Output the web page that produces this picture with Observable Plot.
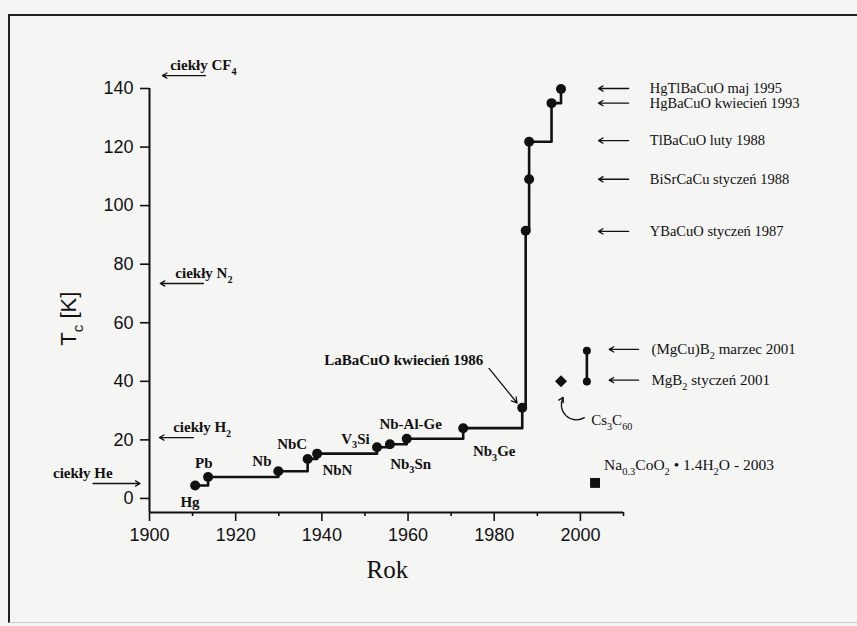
<!DOCTYPE html>
<html><head><meta charset="utf-8">
<script src="https://cdn.jsdelivr.net/npm/d3@7"></script>
<script src="https://cdn.jsdelivr.net/npm/@observablehq/plot@0.6"></script>
<style>
html,body{margin:0;padding:0;background:#f5f5f4;}
#wrap{position:relative;width:857px;height:626px;overflow:hidden;}
#wrap svg{position:absolute;left:0;top:0;}
#border{position:absolute;left:8px;top:14px;width:849px;height:609px;border-left:2px solid #222;border-top:2px solid #222;border-bottom:1px solid #c8c8c8;box-sizing:border-box;pointer-events:none}
</style></head><body><div id="wrap"><div id="border"></div></div>
<script>
// main record series (step line)
const materials = ["Hg","Pb","Nb","NbC","NbN","V3Si","Nb3Sn","Nb-Al-Ge","Nb3Ge","LaBaCuO","YBaCuO","BiSrCaCu","TlBaCuO","HgBaCuO","HgTlBaCuO"];
const years = [1910.6, 1913.6, 1929.9, 1936.7, 1938.9, 1952.8, 1955.8, 1959.7, 1972.8, 1986.5, 1987.3, 1988.1, 1988.1, 1993.3, 1995.5];
const tc = [4.4, 7.3, 9.3, 13.5, 15.3, 17.5, 18.5, 20.4, 24.0, 31.0, 91.4, 109, 121.8, 135, 139.8];

// labels next to the low-Tc points
const pointLabelText = ["Hg","Pb","Nb","NbC","NbN","V_{3}Si","Nb_{3}Sn","Nb-Al-Ge","Nb_{3}Ge"];
const pointLabelX = [1909.4, 1912.6, 1926.1, 1933.1, 1943.6, 1947.8, 1960.6, 1960.6, 1980.0];
const pointLabelY = [-1.4, 12.0, 12.7, 18.4, 9.6, 20.4, 11.8, 25.3, 16.1];

// record annotations on the right
const recordText = ["HgTlBaCuO maj 1995","HgBaCuO kwiecień 1993","TlBaCuO luty 1988","BiSrCaCu styczeń 1988","YBaCuO styczeń 1987"];
const recordTc = [140.0, 135.0, 122.2, 109, 91.2];

// MgB2 family (2001)
const mgText = ["(MgCu)B_{2} marzec 2001","MgB_{2} styczeń 2001"];
const mgYear = [2001.5, 2001.5];
const mgTc = [50.4, 39.9];

// other materials
const cs3c60 = {name: "Cs_{3}C_{60}", year: 1995.5, tc: 40.0};
const naco = {name: "Na_{0.3}CoO_{2} • 1.4H_{2}O - 2003", year: 2003.4, tc: 5.3};

// liquid coolant boiling temperatures
const liquidText = ["ciekły CF_{4}","ciekły N_{2}","ciekły H_{2}","ciekły He"];
const liquidT = [144.4, 73.4, 20.8, 5.1];
const liquidTextX = [1904.8, 1906.0, 1905.5, 1877.6];
const liquidArrowFrom = [1913.0, 1912.5, 1910.2, 1886.9];
const liquidArrowTo = [1903.0, 1902.5, 1902.3, 1897.8];

const xMajor = [1900,1920,1940,1960,1980,2000];
const xMinor = [1910,1930,1950,1970,1990,2010];
const yTicks = [0,20,40,60,80,100,120,140];

const serif = "'Liberation Serif','Times New Roman',serif";
const sans = "'Liberation Sans',Arial,sans-serif";
const ink = "#111";
const idx = d3.range(materials.length);
const rIdx = d3.range(recordText.length);
const lIdx = d3.range(liquidText.length);
const pIdx = d3.range(pointLabelText.length);
const mIdx = d3.range(mgText.length);

const chart = Plot.plot({
  width: 857, height: 626,
  marginLeft: 149, marginRight: 234, marginTop: 88, marginBottom: 114,
  x: {domain: [1900, 2010], label: null},
  y: {domain: [-4.8, 140], label: null},
  style: {background: "transparent", fontFamily: serif, color: ink, overflow: "visible"},
  marks: [
    Plot.axisX({ticks: xMajor, tickSize: 9, tickPadding: 7, tickFormat: "d", fontSize: 18, fontFamily: sans, strokeWidth: 1.6, label: null}),
    Plot.axisX({ticks: xMinor, tickSize: 4, tickFormat: () => "", strokeWidth: 1.6, label: null}),
    Plot.axisY({ticks: yTicks, tickSize: 9, tickPadding: 7, tickFormat: "d", fontSize: 18, fontFamily: sans, strokeWidth: 1.6, label: null}),
    Plot.ruleX([1900], {stroke: ink, strokeWidth: 2}),
    Plot.ruleY([-4.8], {stroke: ink, strokeWidth: 2}),
    // axis titles
    Plot.text(["Rok"], {x: 1955.2, y: -24.6, text: d => d, fontSize: 25, fontFamily: serif}),
    Plot.text(["T_{c} [K]"], {x: 1881.3, y: 61.4, text: d => d, rotate: -90, fontSize: 22, fontFamily: sans}),
    // step line of records
    Plot.line(idx, {x: i => years[i], y: i => tc[i], curve: "step-after", stroke: ink, strokeWidth: 2.6}),
    Plot.dot(idx, {x: i => years[i], y: i => tc[i], r: 5, fill: ink}),
    Plot.text(pIdx, {x: i => pointLabelX[i], y: i => pointLabelY[i], text: i => pointLabelText[i], fontSize: 15, fontWeight: "bold", fontFamily: serif}),
    // LaBaCuO annotation
    Plot.text(["LaBaCuO kwiecień 1986"], {x: 1959.0, y: 47.3, text: d => d, fontSize: 15, fontWeight: "bold", fontFamily: serif}),
    Plot.arrow([0], {x1: 1978.8, y1: 44.4, x2: 1985.3, y2: 32.6, stroke: ink, strokeWidth: 1.3, headLength: 7}),
    // record arrows + labels
    Plot.arrow(rIdx, {x1: 2011.2, x2: 2004.2, y1: i => recordTc[i], y2: i => recordTc[i], stroke: ink, strokeWidth: 1.3, headLength: 6,
      strokeDasharray: i => recordText[i].startsWith("TlBaCuO") ? "2.5,1.5" : null}),
    Plot.text(rIdx, {x: 2016.1, y: i => recordTc[i], text: i => recordText[i], textAnchor: "start", fontSize: 14.5, fontFamily: serif}),
    // MgB2 pair
    Plot.line(mIdx, {x: i => mgYear[i], y: i => mgTc[i], stroke: ink, strokeWidth: 2.6}),
    Plot.dot(mIdx, {x: i => mgYear[i], y: i => mgTc[i], r: 4, fill: ink}),
    Plot.arrow(mIdx, {x1: 2013.5, x2: 2006.7, y1: i => mgTc[i] + 0.5, y2: i => mgTc[i] + 0.5, stroke: ink, strokeWidth: 1.3, headLength: 6}),
    Plot.text(mIdx, {x: 2016.5, y: i => mgTc[i] + 0.5, text: i => mgText[i], textAnchor: "start", fontSize: 15, fontFamily: serif}),
    // Cs3C60
    Plot.dot([cs3c60], {x: "year", y: "tc", symbol: "diamond2", r: 5.4, fill: ink}),
    Plot.arrow([0], {x1: 2000.9, y1: 27.6, x2: 1996.0, y2: 34.5, bend: 75, stroke: ink, strokeWidth: 1.3, headLength: 6}),
    Plot.text([cs3c60], {x: 2002.5, y: 26.6, text: "name", textAnchor: "start", fontSize: 15, fontFamily: serif}),
    // NaCoO2
    Plot.dot([naco], {x: "year", y: "tc", symbol: "square", r: 5.6, fill: ink}),
    Plot.text([naco], {x: 2005.5, y: 11.3, text: "name", textAnchor: "start", fontSize: 15.5, fontFamily: serif}),
    // liquid coolants
    Plot.arrow(lIdx, {x1: i => liquidArrowFrom[i], x2: i => liquidArrowTo[i], y1: i => liquidT[i], y2: i => liquidT[i], stroke: ink, strokeWidth: 1.3, headLength: 6}),
    Plot.text(lIdx, {x: i => liquidTextX[i], y: i => liquidT[i], dy: -10, text: i => liquidText[i], textAnchor: "start", fontSize: 15, fontWeight: "bold", fontFamily: serif})
  ]
});

document.getElementById("wrap").prepend(chart);

// turn "_{...}" markup into real subscript tspans
const NS = "http://www.w3.org/2000/svg";
chart.querySelectorAll("text, tspan").forEach(el => {
  if (el.children.length || !el.textContent.includes("_{")) return;
  const fs = parseFloat(getComputedStyle(el).fontSize) || 15;
  const src = el.textContent;
  el.textContent = "";
  const re = /_\{([^}]*)\}/g;
  let last = 0, m, shifted = false;
  const add = (txt, sub) => {
    if (!txt) return;
    const ts = document.createElementNS(NS, "tspan");
    ts.textContent = txt;
    if (sub) { ts.setAttribute("font-size", (fs * 0.68).toFixed(1)); ts.setAttribute("dy", (fs * 0.32).toFixed(1)); shifted = true; }
    else if (shifted) { ts.setAttribute("dy", (-fs * 0.32).toFixed(1)); shifted = false; }
    el.appendChild(ts);
  };
  while ((m = re.exec(src))) { add(src.slice(last, m.index), false); add(m[1], true); last = re.lastIndex; }
  add(src.slice(last), false);
});
</script>
</body></html>
